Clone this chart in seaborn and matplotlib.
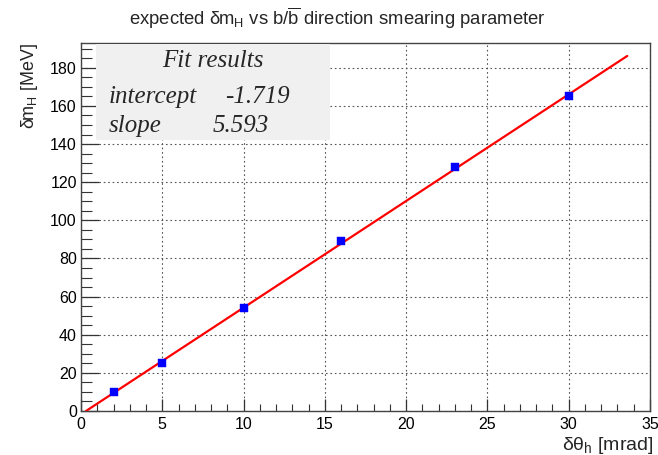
import matplotlib
matplotlib.use("Agg")
import matplotlib.pyplot as plt
from matplotlib.patches import Rectangle
from matplotlib.ticker import MultipleLocator
import numpy as np
import pandas as pd
import seaborn as sns

# Measured mass resolution vs direction smearing
smearing_mrad = [2, 5, 10, 16, 23, 30]
delta_mh_mev = [10, 25, 54, 89, 128, 165]

# Linear fit parameters
fit_intercept = -1.719
fit_slope = 5.593
fit_x_range = [-fit_intercept / fit_slope, 33.6]

sns.set_theme(style="white")
plt.rcParams["font.family"] = ["Liberation Sans", "DejaVu Sans"]
plt.rcParams["mathtext.fontset"] = "custom"
plt.rcParams["mathtext.rm"] = "Liberation Sans"
plt.rcParams["mathtext.it"] = "Liberation Sans:italic"

W, H = 658, 455
fig = plt.figure(figsize=(W / 100, H / 100), dpi=100)
ax = fig.add_axes([81 / W, 1 - 411 / H, (650 - 81) / W, (411 - 43) / H])

points = pd.DataFrame({"x": smearing_mrad, "y": delta_mh_mev})
fit_x = np.array(fit_x_range)
fit = pd.DataFrame({"x": fit_x, "y": fit_intercept + fit_slope * fit_x})

sns.lineplot(data=fit, x="x", y="y", ax=ax, color="#ff0000", lw=1.6, zorder=4)
sns.scatterplot(data=points, x="x", y="y", ax=ax, marker="s", s=36,
                color="#0000ff", edgecolor="#0000ff", linewidth=0.3, zorder=5)

ax.set_xlim(0, 35)
ax.set_ylim(0, 193)
ax.xaxis.set_major_locator(MultipleLocator(5))
ax.xaxis.set_minor_locator(MultipleLocator(1))
ax.yaxis.set_major_locator(MultipleLocator(20))
ax.yaxis.set_minor_locator(MultipleLocator(5))
ax.tick_params(axis="both", which="both", direction="in", colors="#333333",
               labelcolor="black", labelsize=11.5, bottom=True, left=True,
               top=False, right=False)
ax.tick_params(axis="x", which="major", length=9, width=0.9, pad=4)
ax.tick_params(axis="x", which="minor", length=5, width=0.8)
ax.tick_params(axis="y", which="major", length=13, width=0.9, pad=3)
ax.tick_params(axis="y", which="minor", length=8, width=0.8)
ax.grid(True, which="major", color="#555555", linestyle=(0, (1.5, 2.5)), lw=0.8)
for sp in ax.spines.values():
    sp.set_color("#444444")
    sp.set_linewidth(1.0)
ax.set_xlabel("")
ax.set_ylabel("")

fig.text(653 / W, 1 - 446 / H, r"δθ$_\mathrm{h}$ [mrad]", ha="right", va="center", fontsize=14)
fig.text(29 / W, 1 - 43 / H, r"δm$_\mathrm{H}$ [MeV]", ha="center", va="top",
         rotation=90, fontsize=13)
fig.text(337 / W, 1 - 18 / H,
         r"expected δm$_\mathrm{H}$ vs b/$\mathrm{\overline{b}}$ direction smearing parameter",
         ha="center", va="center", fontsize=13.3)

# Fit summary box
box = Rectangle((96 / W, 1 - 140 / H), (330 - 96) / W, (140 - 44) / H,
                transform=fig.transFigure, facecolor="#f0f0f0", edgecolor="none",
                zorder=3)
ax.add_patch(box)
box.set_clip_on(False)
serif = dict(family=["Liberation Serif", "DejaVu Serif"], style="italic", fontsize=18)
fig.text(213 / W, 1 - 67 / H, "Fit results", ha="center", va="baseline", **serif)
fig.text(109 / W, 1 - 103 / H, "intercept", ha="left", va="baseline", **serif)
fig.text(225 / W, 1 - 103 / H, f"{fit_intercept:.3f}", ha="left", va="baseline", **serif)
fig.text(109 / W, 1 - 132 / H, "slope", ha="left", va="baseline", **serif)
fig.text(213 / W, 1 - 132 / H, f"{fit_slope:.3f}", ha="left", va="baseline", **serif)

fig.savefig("out.png", dpi=100, facecolor="white")
